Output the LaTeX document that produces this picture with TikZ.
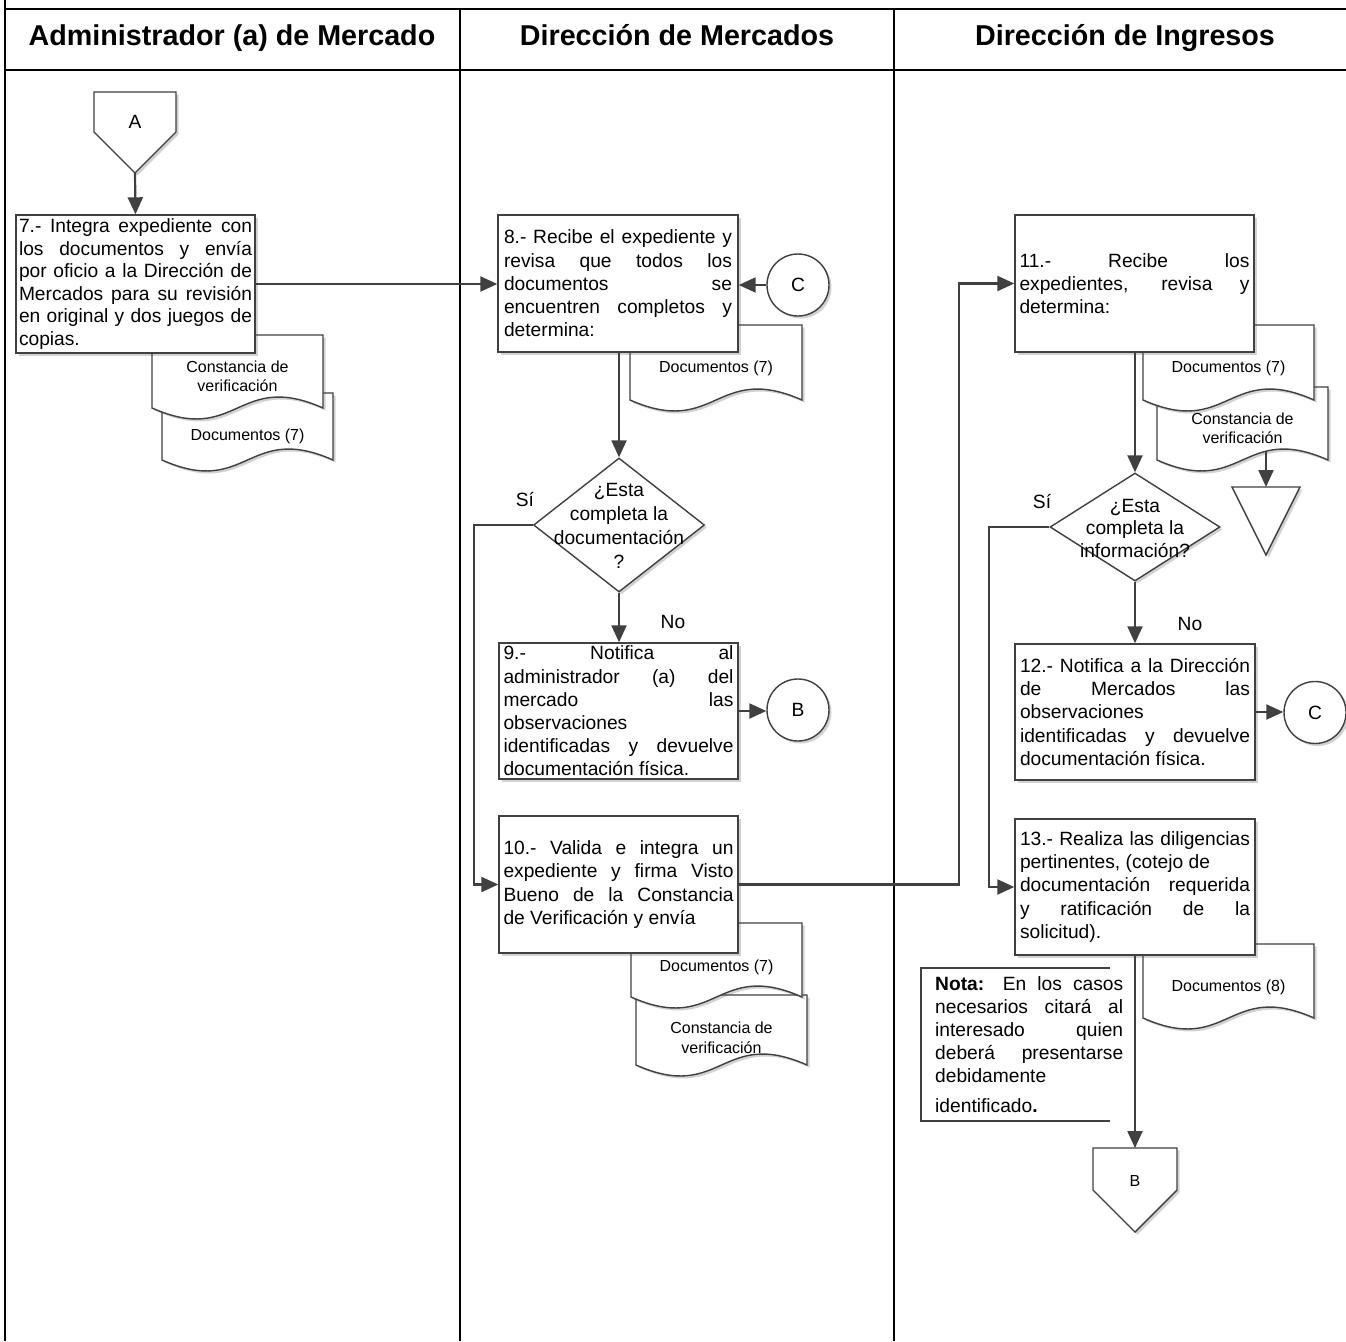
\documentclass[tikz,border=0pt]{standalone}
\usepackage{fontspec}
\setmainfont{Liberation Sans}
\usetikzlibrary{shapes.geometric,arrows.meta,shadows}
\definecolor{lnc}{HTML}{404040}
\newcommand{\bodyfont}{\fontsize{19.2}{23.2}\selectfont}
\newcommand{\jl}[1]{\makebox[\linewidth][s]{#1}\\}
\newcommand{\docshape}[7]{%
  \filldraw[docst] (#2,#5) -- (#2,#3) -- (#4,#3) -- (#4,#5)
    .. controls ({(#2+#4)/2},{#5-38}) and ({(#2+#4)/2},{#5+38}) .. (#2,#5) -- cycle;
  \node[doctxt] (#1) at ({(#2+#4)/2},#6) {#7};}
\tikzset{
  tbl/.style={line width=2.6pt, draw=black},
  arr/.style={draw=lnc, line width=2.2pt, -{Triangle[length=17pt,width=15pt]}},
  shd/.style={drop shadow={shadow xshift=2.5pt, shadow yshift=-2.5pt, opacity=0.25, fill=black!70}},
  box/.style={rectangle, draw=lnc, line width=1.4pt, fill=white, inner sep=0pt, shd},
  docst/.style={draw=lnc, line width=1.4pt, fill=white, shd},
  doctxt/.style={font=\fontsize{16}{19.5}\selectfont, align=center, inner sep=0pt},
  lbl/.style={font=\bodyfont, inner sep=0pt},
  hdr/.style={font=\fontsize{28.7}{34}\selectfont\bfseries, inner sep=0pt, anchor=base},
  dia/.style={diamond, draw=lnc, line width=1.4pt, fill=white, inner sep=0pt, shd},
  circ/.style={circle, draw=lnc, line width=1.4pt, fill=white, minimum size=62pt, inner sep=0pt, font=\bodyfont, shd},
  notast/.style={draw=lnc, line width=2pt},
}
\begin{document}
\begin{tikzpicture}[x=1pt,y=-1pt]
\useasboundingbox (0,0) rectangle (1346,1341);
\fill[white] (0,0) rectangle (1346,1341);
% table
\draw[tbl] (5,0) -- (5,1341);
\draw[tbl] (5,9) -- (1346,9);
\draw[tbl] (5,70) -- (1346,70);
\draw[tbl] (460,9) -- (460,1341);
\draw[tbl] (894,9) -- (894,1341);
\node[hdr] (h1) at (232,45.5) {Administrador (a) de Mercado};
\node[hdr] (h2) at (677,45.5) {Dirección de Mercados};
\node[hdr] (h3) at (1125,45.5) {Dirección de Ingresos};

% off-page connector A
\filldraw[docst] (94,92) -- (176,92) -- (176,132) -- (135,173) -- (94,132) -- cycle;
\node[lbl] (offA) at (135,122) {A};
\coordinate (Atip) at (135,173);

% documents
\docshape{docL2}{162}{393}{333}{460}{436}{Documentos (7)}
\docshape{docL1}{152}{335}{323}{408}{376.5}{Constancia de\\verificación}
\docshape{docM1}{630}{325}{802}{400}{368}{Documentos (7)}
\docshape{docM3}{636}{995}{807}{1065}{1038}{Constancia de\\verificación}
\docshape{docM2}{631}{923}{802}{997}{967}{Documentos (7)}
\docshape{docR2}{1157}{387}{1328}{460}{428.5}{Constancia de\\verificación}
\docshape{docR1}{1143}{325}{1314}{400}{368}{Documentos (7)}
\docshape{docR3}{1143}{944}{1314}{1018}{987}{Documentos (8)}

% boxes
\node[box, minimum width=239pt, minimum height=138pt] (b7) at (135.5,284) {\parbox{233pt}{\fontsize{19.2}{22.6}\selectfont
\jl{7.- Integra expediente con}
\jl{los documentos y envía}
\jl{por oficio a la Dirección de}
\jl{Mercados para su revisión}
\jl{en original y dos juegos de}
copias.}};
\node[box, minimum width=240pt, minimum height=137pt] (b8) at (618,283.5) {\parbox{228pt}{\bodyfont
\jl{8.- Recibe el expediente y}
\jl{revisa que todos los}
\jl{documentos se}
\jl{encuentren completos y}
determina:}};
\node[box, minimum width=239pt, minimum height=136pt] (b9) at (618.5,711) {\parbox{230pt}{\bodyfont
\jl{9.- Notifica al}
\jl{administrador (a) del}
\jl{mercado las}
observaciones\\
\jl{identificadas y devuelve}
documentación física.}};
\node[box, minimum width=239pt, minimum height=137pt] (b10) at (618.5,884.5) {\parbox{230pt}{\bodyfont
\jl{10.- Valida e integra un}
\jl{expediente y firma Visto}
\jl{Bueno de la Constancia}
de Verificación y envía}};
\node[box, minimum width=239pt, minimum height=137pt] (b11) at (1134.5,283.5) {\parbox{230pt}{\bodyfont
\jl{11.- Recibe los}
\jl{expedientes, revisa y}
determina:}};
\node[box, minimum width=240pt, minimum height=136pt] (b12) at (1135,712) {\parbox{230pt}{\bodyfont
\jl{12.- Notifica a la Dirección}
\jl{de Mercados las}
observaciones\\
\jl{identificadas y devuelve}
documentación física.}};
\node[box, minimum width=240pt, minimum height=136pt] (b13) at (1135,887) {\parbox{230pt}{\bodyfont
\jl{13.- Realiza las diligencias}
pertinentes, (cotejo de\\
\jl{documentación requerida}
\jl{y ratificación de la}
solicitud).}};

% decisions
\node[dia, minimum width=171pt, minimum height=134pt] (d1) at (619,525) {};
\node[lbl, align=center, font=\fontsize{19.2}{24}\selectfont] (d1t) at (619,526) {¿Esta\\completa la\\documentación\\?};
\node[dia, minimum width=170pt, minimum height=108pt] (d2) at (1135,527) {};
\node[lbl, align=center, font=\fontsize{19.2}{22.5}\selectfont] (d2t) at (1135,528) {¿Esta\\completa la\\información?};

% circles
\node[circ] (C1) at (798,285) {C};
\node[circ] (B1) at (798,710) {B};
\node[circ] (C2) at (1315,712.5) {C};

% triangle
\filldraw[docst] (1232,487) -- (1300,487) -- (1266,555) -- cycle;
\coordinate (Ttop) at (1266,487);
\coordinate (R2bot) at (1266,451);

% off-page connector B
\filldraw[docst] (1093,1148) -- (1177,1148) -- (1177,1190) -- (1135,1232) -- (1093,1190) -- cycle;
\node[inner sep=0pt, font=\fontsize{16}{19}\selectfont] (offB) at (1135,1181) {B};
\coordinate (Btop) at (1135,1148);

% nota
\draw[notast] (1110,968) -- (921,968) -- (921,1121) -- (1110,1121);
\node[anchor=north west, inner sep=0pt] (nota) at (935,976) {\parbox{188pt}{\bodyfont
\jl{\textbf{Nota:} En los casos}
\jl{necesarios citará al}
\jl{interesado quien}
\jl{deberá presentarse}
debidamente\\[6pt]
identificado\textbf{.}}};

% labels
\node[lbl] (si1) at (525,500) {Sí};
\node[lbl] (no1) at (673,622) {No};
\node[lbl] (si2) at (1042,502) {Sí};
\node[lbl] (no2) at (1190,624) {No};

% helper coordinates
\coordinate (s1) at (474,700);
\coordinate (s2) at (959,600);
\coordinate (s3) at (989,700);

% connectors
\draw[arr] (Atip) -- (b7.north);
\draw[arr] (b7.east) -- (b7.east -| b8.west);
\draw[arr] (C1.west) -- (C1.west -| b8.east);
\draw[arr] (d1.north |- b8.south) -- (d1.north);
\draw[arr] (d1.west) -| (s1) |- (b10.west);
\draw[arr] (d1.south) -- (d1.south |- b9.north);
\draw[arr] (b9.east) -- (b9.east -| B1.west);
\draw[arr] (b10.east) -| (s2) |- (b11.west);
\draw[arr] (b11.south -| d2.north) -- (d2.north);
\draw[arr] (d2.west) -| (s3) |- (b13.west);
\draw[arr] (d2.south) -- (b12.north);
\draw[arr] (b12.east) -- (b12.east -| C2.west);
\draw[arr] (b13.south) -- (Btop);
\draw[arr] (R2bot) -- (Ttop);
\end{tikzpicture}
\end{document}
